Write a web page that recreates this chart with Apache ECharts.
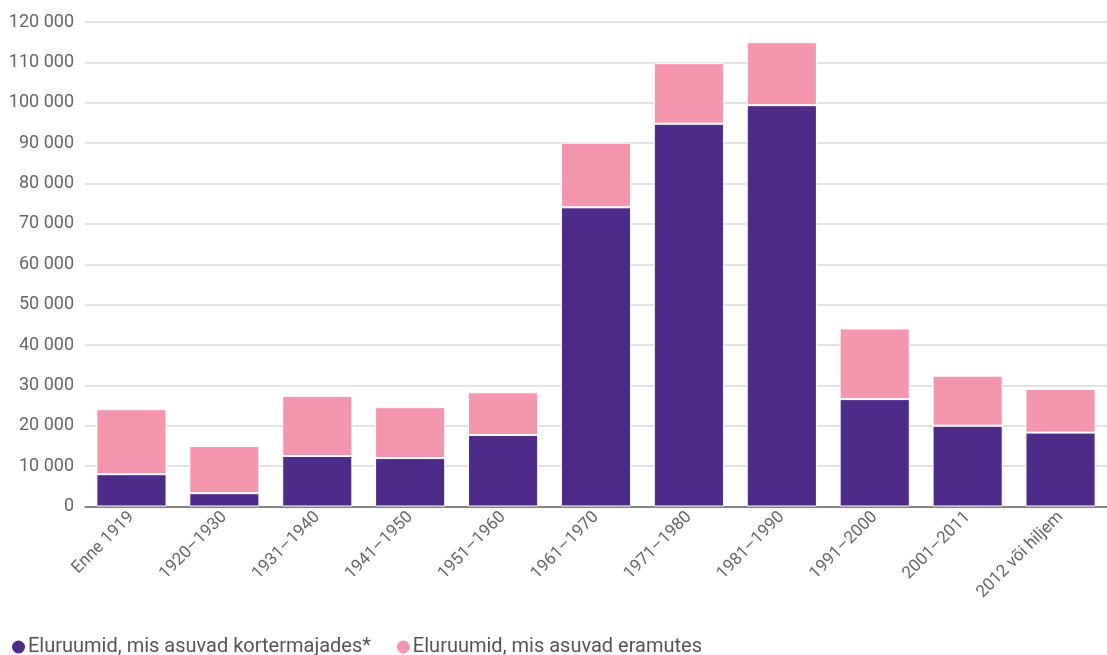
<!DOCTYPE html>
<html><head><meta charset="utf-8">
<script src="https://cdn.jsdelivr.net/npm/echarts@6/dist/echarts.min.js"></script>
<style>html,body{margin:0;padding:0;background:#fff}#c{width:1107px;height:655px}</style>
</head><body><div id="c"></div>
<script>
const categories = ['Enne 1919','1920–1930','1931–1940','1941–1950','1951–1960','1961–1970','1971–1980','1981–1990','1991–2000','2001–2011','2012 või hiljem'];
const seriesNames = ['Eluruumid, mis asuvad kortermajades*','Eluruumid, mis asuvad eramutes'];
const apartments = [8000,3300,12500,12000,17700,74100,94800,99400,26600,20000,18300];
const houses = [16100,11700,14900,12600,10600,16000,15000,15600,17500,12400,10800];
const colors = ['#4E2A89','#F396AE'];
const chart = echarts.init(document.getElementById('c'));
const fmt = v => String(v).replace(/\B(?=(\d{3})+(?!\d))/g, ' ');
chart.setOption({
  animation:false,
  textStyle:{fontFamily:'Roboto'},
  color:colors,
  grid:{left:85,right:0,top:22,bottom:148.5,containLabel:false},
  legend:{left:10,top:637,padding:0,itemWidth:15,itemHeight:15,itemGap:24,icon:'circle',
    textStyle:{fontSize:20,color:'#555',fontFamily:'Roboto',padding:[0,0,0,-3]},
    data:seriesNames},
  xAxis:{type:'category',data:categories,
    axisLine:{lineStyle:{color:'#666',width:1.5}},axisTick:{show:false},
    axisLabel:{rotate:45,fontSize:17,color:'#666',margin:8,interval:0}},
  yAxis:{type:'value',min:0,max:120000,interval:10000,
    axisLine:{show:false},axisTick:{show:false},
    splitLine:{lineStyle:{color:'#d9d9d9',width:1.5}},
    axisLabel:{fontSize:18,color:'#666',margin:11,formatter:fmt}},
  series:[
    {name:seriesNames[0],type:'bar',stack:'a',data:apartments,barWidth:'75.5%',
      itemStyle:{borderColor:'#fff',borderWidth:1}},
    {name:seriesNames[1],type:'bar',stack:'a',data:houses,barWidth:'75.5%',
      itemStyle:{borderColor:'#fff',borderWidth:1}}
  ]
});
</script></body></html>
